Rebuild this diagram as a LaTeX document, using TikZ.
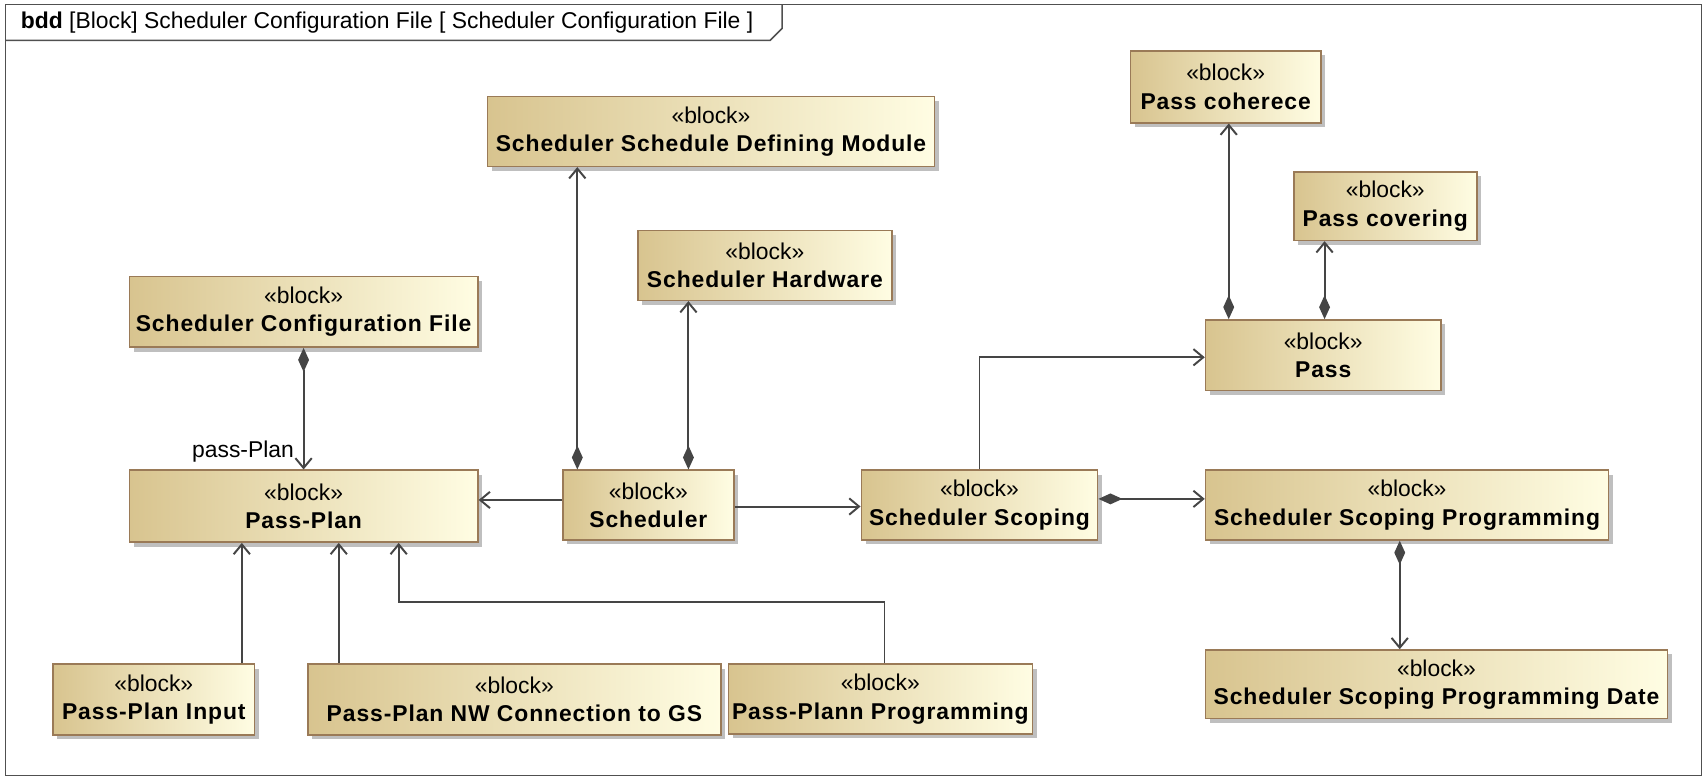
\documentclass[tikz,border=0pt]{standalone}
\usepackage{fontspec}
\setmainfont{Liberation Sans}
\newfontfamily\spacedfont[LetterSpace=4]{Liberation Sans}
\usetikzlibrary{arrows.meta,shadows,calc}
\definecolor{bl}{HTML}{D8C48F}
\definecolor{br}{HTML}{FFFDE3}
\definecolor{bd}{HTML}{9A7A57}
\definecolor{ln}{HTML}{454545}
\definecolor{fr}{HTML}{505050}
\newcommand\blkname[1]{{\spacedfont\bfseries #1}}
\newcommand\stereo{«block»}
\tikzset{
  blk/.style={draw=bd, line width=1.4pt, left color=bl, right color=br,
    anchor=north west, inner sep=0pt, align=center,
    font=\fontsize{21}{26}\selectfont,
    drop shadow={shadow xshift=4pt, shadow yshift=-4pt, fill=black!25, opacity=1}},
  assoc/.style={draw=ln, line width=1.8pt, -{Straight Barb[length=9pt,width=15pt]}},
  comp/.style={draw=ln, line width=1.8pt, {Diamond[length=22pt,width=10pt,fill=ln]}-{Straight Barb[length=9pt,width=15pt]}},
  lbl/.style={font=\fontsize{21}{24}\selectfont, inner sep=1pt}
}
\begin{document}
\begin{tikzpicture}[x=1pt,y=-1pt]
\useasboundingbox (0,0) rectangle (1568,715);
% frame
\draw[fr, line width=1.4pt] (5,4) rectangle (1562,712);
\draw[fr, line width=1.4pt] (5,37) -- (707,37) -- (718,26) -- (718,4);
\node[lbl, anchor=base west] (title) at (18,26) {\textbf{bdd} [Block] Scheduler Configuration File [ Scheduler Configuration File ]};
% blocks
\node[blk, minimum width=410pt, minimum height=64pt] (ssdm) at (447,88) {\stereo\\\blkname{Scheduler Schedule Defining Module}};
\node[blk, minimum width=175pt, minimum height=66pt] (pcoh) at (1037,46) {\stereo\\\blkname{Pass coherece}};
\node[blk, minimum width=168pt, minimum height=63pt] (pcov) at (1187,157) {\stereo\\\blkname{Pass covering}};
\node[blk, minimum width=233pt, minimum height=64pt] (shw) at (585,211) {\stereo\\\blkname{Scheduler Hardware}};
\node[blk, minimum width=320pt, minimum height=65pt] (scf) at (118,253) {\stereo\\\blkname{Scheduler Configuration File}};
\node[blk, minimum width=216pt, minimum height=65pt] (pass) at (1106,293) {\stereo\\\blkname{Pass}};
\node[blk, minimum width=320pt, minimum height=66pt] (pp) at (118,431) {\stereo\\\blkname{Pass-Plan}};
\node[blk, minimum width=157pt, minimum height=64pt] (sch) at (516,431) {\stereo\\\blkname{Scheduler}};
\node[blk, minimum width=217pt, minimum height=64pt] (ssc) at (790,431) {\stereo\\\blkname{Scheduler Scoping}};
\node[blk, minimum width=370pt, minimum height=64pt] (ssp) at (1106,431) {\stereo\\\blkname{Scheduler Scoping Programming}};
\node[blk, minimum width=424pt, minimum height=63pt] (sspd) at (1106,596) {\stereo\\\blkname{Scheduler Scoping Programming Date}};
\node[blk, minimum width=185pt, minimum height=65pt] (ppi) at (48,609) {\stereo\\\blkname{Pass-Plan Input}};
\node[blk, minimum width=379pt, minimum height=65pt] (ppnw) at (282,609) {\stereo\\\blkname{Pass-Plan NW Connection to GS}};
\node[blk, minimum width=279pt, minimum height=64pt] (ppp) at (668,609) {\stereo\\\blkname{Pass-Plann Programming}};
% helper coordinates
\coordinate (xa) at (530,0);
\coordinate (xb) at (632,0);
\coordinate (xc) at (1128,0);
\coordinate (xd) at (1216,0);
\coordinate (xe) at (1285,0);
\coordinate (xf) at (222,0);
\coordinate (xg) at (311,0);
\coordinate (xh) at (812,0);
\coordinate (ya) at (0,459);
\coordinate (yb) at (0,465);
\coordinate (yc) at (0,458);
\coordinate (yd) at (0,328);
\coordinate (bend) at (366,553);
% connectors
\draw[comp] (scf.south) -- (pp.north) node[lbl, pos=1, anchor=south east, xshift=-7pt, yshift=5pt] (ppl) {pass-Plan};
\draw[assoc] (sch.west |- ya) -- (pp.east |- ya);
\draw[assoc] (sch.east |- yb) -- (ssc.west |- yb);
\draw[comp] (sch.north -| xa) -- (ssdm.south -| xa);
\draw[comp] (sch.north -| xb) -- (shw.south -| xb);
\draw[assoc] (ssc.north) |- (pass.west |- yd);
\draw[comp] (ssc.east |- yc) -- (ssp.west |- yc);
\draw[comp] (pass.north -| xc) -- (pcoh.south -| xc);
\draw[comp] (pass.north -| xd) -- (pcov.south -| xd);
\draw[comp] (ssp.south -| xe) -- (sspd.north -| xe);
\draw[assoc] (ppi.north -| xf) -- (pp.south -| xf);
\draw[assoc] (ppnw.north -| xg) -- (pp.south -| xg);
\draw[assoc] (ppp.north -| xh) |- (bend) -- (pp.south -| bend);
\end{tikzpicture}
\end{document}
